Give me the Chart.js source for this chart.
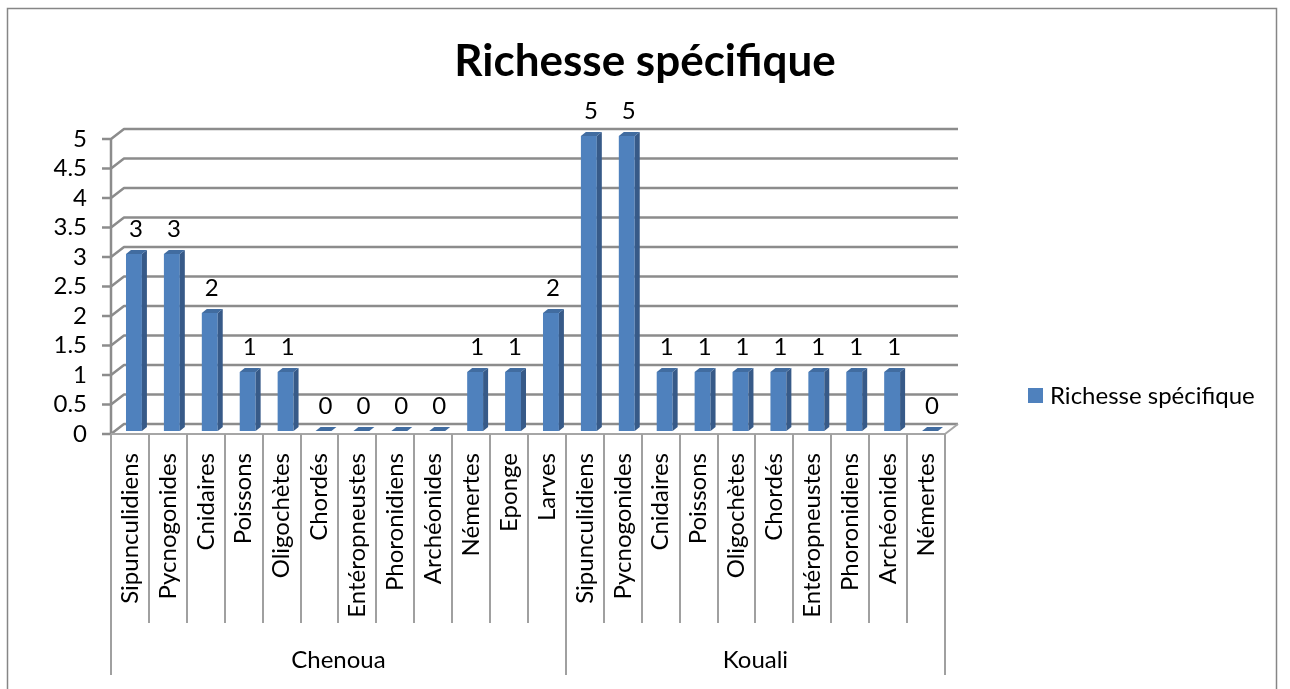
<!DOCTYPE html>
<html lang="fr">
<head>
<meta charset="utf-8">
<title>Richesse spécifique</title>
<script src="https://cdn.jsdelivr.net/npm/chart.js@4.4.1/dist/chart.umd.min.js"></script>
<style>
  html, body { margin: 0; padding: 0; background: #fff; }
  canvas { display: block; }
</style>
</head>
<body>
<canvas id="richesse" width="1290" height="689"></canvas>
<script>
// Stations échantillonnées et taxons recensés dans chacune
const stations = ['Chenoua', 'Kouali'];
const taxonsChenoua = ['Sipunculidiens', 'Pycnogonides', 'Cnidaires', 'Poissons', 'Oligochètes', 'Chordés',
  'Entéropneustes', 'Phoronidiens', 'Archéonides', 'Némertes', 'Eponge', 'Larves'];
const taxonsKouali = ['Sipunculidiens', 'Pycnogonides', 'Cnidaires', 'Poissons', 'Oligochètes', 'Chordés',
  'Entéropneustes', 'Phoronidiens', 'Archéonides', 'Némertes'];
const richesseChenoua = [3, 3, 2, 1, 1, 0, 0, 0, 0, 1, 1, 2];
const richesseKouali = [5, 5, 1, 1, 1, 1, 1, 1, 1, 0];
const nomSerie = 'Richesse spécifique';
const titre = 'Richesse spécifique';

const taxons = taxonsChenoua.concat(taxonsKouali);
const richesse = richesseChenoua.concat(richesseKouali);
const tailles = [taxonsChenoua.length, taxonsKouali.length];

const BLEU = '#4f81bd';
const GRIS = '#8c8c8c';
const POLICE = 'Lato';
const TAILLE = 24;

// décalages pour le faux relief façon Excel
const PROF = { dx: 13, dy: -10 };  // mur du fond
const DECAL = { dx: 4, dy: -3 };   // colonnes placées dans la profondeur
const EP = { dx: 5, dy: -4 };      // épaisseur des colonnes

const relief = {
  id: 'relief',
  beforeDatasetsDraw(chart) {
    const { ctx, chartArea: a, scales: { y } } = chart;
    const y0 = y.getPixelForValue(0);
    ctx.save();
    ctx.strokeStyle = GRIS;
    ctx.lineWidth = 2.5;
    ctx.lineJoin = 'round';
    // quadrillage sur le mur latéral + mur du fond
    y.ticks.forEach(t => {
      const py = y.getPixelForValue(t.value);
      ctx.beginPath();
      ctx.moveTo(a.left - 9, py);
      ctx.lineTo(a.left, py);
      ctx.lineTo(a.left + PROF.dx, py + PROF.dy);
      ctx.lineTo(a.right + PROF.dx, py + PROF.dy);
      ctx.stroke();
    });
    ctx.beginPath();
    ctx.moveTo(a.left, a.top);
    ctx.lineTo(a.left, y0);
    ctx.stroke();
    // bord avant du sol
    ctx.strokeStyle = '#a6a6a6';
    ctx.lineWidth = 2;
    ctx.beginPath();
    ctx.moveTo(a.left, y0);
    ctx.lineTo(a.right, y0);
    ctx.lineTo(a.right + PROF.dx, y0 + PROF.dy);
    ctx.stroke();
    ctx.restore();

    ctx.save();
    ctx.translate(DECAL.dx, DECAL.dy);
  },
  afterDatasetsDraw(chart) {
    const { ctx } = chart;
    const valeurs = chart.data.datasets[0].data;
    chart.getDatasetMeta(0).data.forEach((bar, i) => {
      const { x, y, base, width } = bar.getProps(['x', 'y', 'base', 'width']);
      const g = x - width / 2, d = x + width / 2;
      // face latérale
      ctx.fillStyle = '#375a88';
      ctx.beginPath();
      ctx.moveTo(d, y);
      ctx.lineTo(d + EP.dx, y + EP.dy);
      ctx.lineTo(d + EP.dx, base + EP.dy);
      ctx.lineTo(d, base);
      ctx.closePath();
      ctx.fill();
      // dessus
      ctx.fillStyle = '#416ca0';
      ctx.beginPath();
      ctx.moveTo(g, y);
      ctx.lineTo(g + EP.dx, y + EP.dy);
      ctx.lineTo(d + EP.dx, y + EP.dy);
      ctx.lineTo(d, y);
      ctx.closePath();
      ctx.fill();
      // étiquette de valeur
      ctx.fillStyle = '#000';
      ctx.font = TAILLE + 'px ' + POLICE;
      ctx.textAlign = 'center';
      ctx.textBaseline = 'middle';
      ctx.fillText(String(valeurs[i]), x + 2, y - 25);
    });
    ctx.restore();
  },
  afterDraw(chart) {
    const { ctx, chartArea: a, scales: { x } } = chart;
    const pas = x.getPixelForValue(1) - x.getPixelForValue(0);
    const bord = i => x.getPixelForValue(0) - pas / 2 + i * pas;
    const limites = [0];
    tailles.forEach(n => limites.push(limites[limites.length - 1] + n));

    ctx.save();
    // titre, centré sur toute la largeur
    ctx.fillStyle = '#000';
    ctx.font = 'bold 44px ' + POLICE;
    ctx.textAlign = 'center';
    ctx.textBaseline = 'middle';
    ctx.fillText(titre, chart.width / 2, 62);

    ctx.strokeStyle = '#a0a0a0';
    ctx.lineWidth = 2;
    for (let i = 0; i <= taxons.length; i++) {
      const px = Math.round(bord(i));
      const bas = limites.includes(i) ? a.bottom + 241 : a.bottom + 189;
      ctx.beginPath();
      ctx.moveTo(px, a.bottom);
      ctx.lineTo(px, bas);
      ctx.stroke();
    }
    // noms des stations
    ctx.font = TAILLE + 'px ' + POLICE;
    stations.forEach((s, k) => {
      ctx.fillText(s, (bord(limites[k]) + bord(limites[k + 1])) / 2, a.bottom + 226);
    });

    // légende
    ctx.fillStyle = BLEU;
    ctx.fillRect(1028, 388, 15, 15);
    ctx.fillStyle = '#000';
    ctx.textAlign = 'left';
    ctx.fillText(nomSerie, 1050, 396);

    // cadre
    ctx.strokeStyle = '#868686';
    ctx.lineWidth = 1.5;
    ctx.strokeRect(7.5, 8.5, 1269, 700);
    ctx.restore();
  }
};

Chart.defaults.font.family = POLICE;
Chart.defaults.color = '#000';

new Chart(document.getElementById('richesse'), {
  type: 'bar',
  data: {
    labels: taxons,
    datasets: [{
      label: nomSerie,
      data: richesse,
      backgroundColor: BLEU,
      categoryPercentage: 1,
      barPercentage: 0.42
    }]
  },
  options: {
    responsive: false,
    animation: false,
    layout: { padding: { top: 139, left: 0, right: 345, bottom: 0 } },
    plugins: {
      legend: { display: false },
      tooltip: { enabled: false },
      title: { display: false }
    },
    scales: {
      x: {
        grid: { display: false, drawTicks: false },
        border: { display: false },
        ticks: { minRotation: 90, maxRotation: 90, autoSkip: false, padding: 19, font: { size: TAILLE } },
        afterFit: s => { s.height = 255; }
      },
      y: {
        min: 0,
        max: 5,
        grid: { display: false, drawTicks: false },
        border: { display: false },
        ticks: { stepSize: 0.5, autoSkip: false, padding: 24, font: { size: TAILLE }, callback: v => String(v) },
        afterFit: s => { s.width = 111; }
      }
    }
  },
  plugins: [relief]
});
</script>
</body>
</html>
